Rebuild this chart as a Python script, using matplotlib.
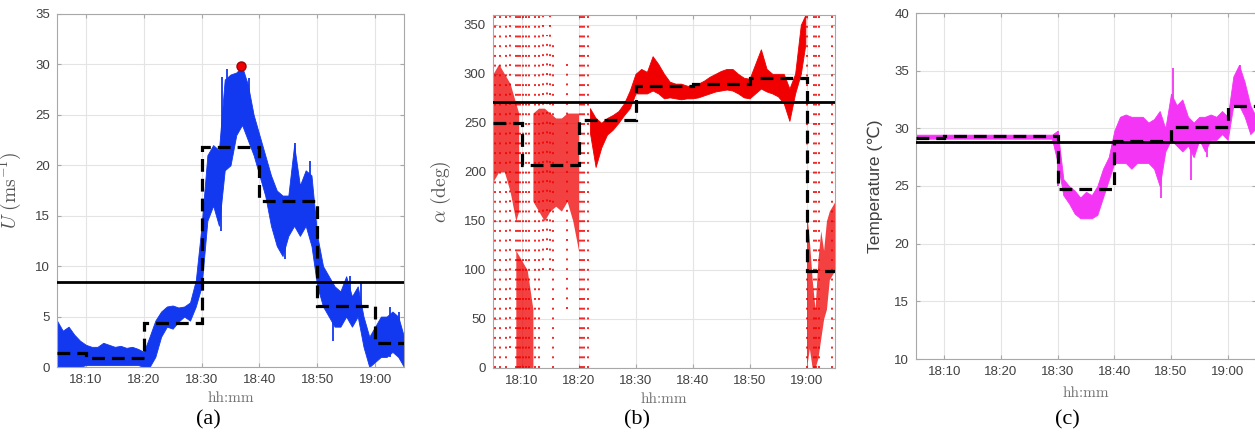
import matplotlib.pyplot as plt

plt.rcParams["mathtext.fontset"] = "cm"
plt.rcParams["font.family"] = ["Liberation Sans", "DejaVu Sans"]

# time axis in minutes after 18:00
minutes = list(range(5, 66))
tick_min = [10, 20, 30, 40, 50, 60]
tick_lab = ["18:10", "18:20", "18:30", "18:40", "18:50", "19:00"]
step_edges = [5, 10, 20, 30, 40, 50, 60, 65]

# ---- (a) wind speed U (m/s), band read per minute
u_lo = [0, 0, 0, 0, 0, 0.2, 0.2, 0.2, 0.2, 0.2, 0.2, 0.2, 0.2, 0.2, 0.2,
        0, 0, 1.0, 3.0, 4.0, 3.8, 4.5, 5.0, 4.6, 6.0, 8.0, 14.5, 16.0,
        14.0, 19.5, 20.0, 23.0, 24.0, 22.5, 21.0, 19.0, 17.0, 14.0, 12.0,
        11.0, 13.0, 14.0, 13.0, 14.0, 12.0, 8.0, 6.0, 5.0, 4.0, 4.0, 5.0,
        4.0, 5.0, 2.0, 0.0, 0.5, 1.0, 1.0, 1.5, 1.0, 0.0]
u_hi = [4.6, 3.6, 4.0, 3.2, 2.6, 2.2, 2.0, 2.0, 2.4, 2.2, 2.0, 2.1, 1.9,
        2.0, 1.8, 1.5, 3.0, 4.6, 5.5, 6.0, 6.1, 5.9, 6.0, 6.4, 8.6, 14.0,
        21.0, 22.0, 21.5, 28.5, 29.0, 29.2, 29.8, 28.0, 25.0, 23.0, 21.0,
        19.0, 17.5, 17.0, 17.0, 22.0, 18.0, 19.5, 19.0, 13.0, 10.0, 9.0,
        8.0, 7.5, 9.0, 7.0, 8.0, 5.0, 3.0, 4.0, 5.0, 5.0, 5.5, 5.0, 3.0]
u_spike_t = [33.3, 33.6, 34.4, 35.3, 38.2, 44.5, 46.2, 48.7, 52.7, 55.6,
             57.6, 62.6, 64.2]
u_spike_lo = [13.5, 20.0, 21.0, 22.0, 23.0, 10.7, 14.0, 14.0, 2.6, 5.0,
              5.0, 1.0, 1.0]
u_spike_hi = [20.0, 28.8, 29.5, 28.0, 28.7, 15.0, 22.2, 20.4, 6.0, 9.0,
              8.4, 5.9, 5.5]
u_mean = [1.4, 0.9, 4.4, 21.8, 16.5, 6.0, 2.4]
u_ref = 8.4
u_max_t, u_max = 36.9, 29.8

# ---- (b) wind direction alpha (deg)
a_streak_t = [5.3, 6.2, 7.3, 8.0, 9.0, 9.4, 9.7, 10.3, 10.8, 11.4, 12.3,
              13.0, 13.8, 14.4, 15.0, 15.5, 17.9, 20.2, 20.7, 21.0, 21.7,
              60.0, 61.3, 61.7, 62.2, 64.5]
a_streak_lo = [0, 0, 0, 20, 0, 0, 0, 0, 0, 0, 0, 0, 100, 120, 100, 0, 60,
               0, 0, 0, 0, 0, 0, 0, 0, 0]
a_streak_hi = [360, 360, 360, 360, 360, 360, 360, 360, 360, 360, 360, 360,
               360, 340, 360, 330, 310, 360, 360, 360, 360, 360, 360, 360,
               360, 360]
a_early_t = [5, 6, 7, 8, 9, 9.5]
a_early_lo = [190, 200, 200, 180, 150, 160]
a_early_hi = [300, 310, 300, 290, 270, 260]
a_low_t = [9, 10, 11, 12]
a_low_lo = [0, 0, 0, 0]
a_low_hi = [120, 110, 100, 60]
a_mid_t = [12, 13, 14, 15, 16, 17, 18, 19, 20]
a_mid_lo = [170, 160, 150, 160, 165, 160, 170, 150, 120]
a_mid_hi = [260, 265, 265, 260, 255, 255, 260, 260, 260]
a_track_t = [22, 23, 24, 25, 26, 27, 28, 29, 30, 31, 32, 33, 34, 35, 36,
             37, 38, 39, 40, 41, 42, 43, 44, 45, 46, 47, 48, 49, 50, 51,
             52, 53, 54, 55, 56, 57, 58, 59, 59.8]
a_track_lo = [240, 205, 225, 238, 243, 250, 258, 265, 280, 280, 280, 283,
              280, 275, 276, 275, 274, 275, 275, 276, 278, 280, 282, 283,
              284, 283, 280, 276, 275, 280, 285, 282, 280, 277, 270, 252,
              280, 300, 330]
a_track_hi = [265, 255, 250, 255, 258, 262, 270, 283, 300, 305, 302, 318,
              310, 300, 292, 290, 290, 288, 287, 290, 293, 297, 300, 303,
              305, 305, 300, 296, 295, 310, 325, 305, 300, 300, 300, 285,
              300, 350, 360]
a_late_t = [60, 60.5, 61, 61.5, 62, 62.5, 63, 63.5, 64, 65]
a_late_lo = [0, 20, 0, 0, 10, 30, 50, 60, 90, 100]
a_late_hi = [160, 130, 90, 60, 110, 140, 120, 150, 160, 170]
a_mean_edges = [5, 10, 20, 30, 40, 50, 60, 65]
a_mean = [250, 207, 253, 287.5, 289.5, 296, 99]
a_ref = 271.5

# ---- (c) temperature (deg C)
t_lo = [29.1] * 25 + [
    27.0, 24.2, 23.5, 22.6, 22.2, 22.2, 22.2, 22.5, 24.0, 25.5, 27.0, 27.0,
    27.0, 26.5, 27.0, 27.0, 27.0, 26.5, 25.0, 28.0, 29.0, 28.5, 28.0, 28.5,
    27.5, 29.0, 28.0, 29.0, 29.0, 29.5, 29.0, 32.0, 32.0, 31.0, 29.5, 30.0]
t_hi = [29.45] * 25 + [
    29.8, 25.6, 25.0, 24.6, 24.0, 24.5, 24.2, 25.0, 26.5, 27.5, 29.8, 31.0,
    31.2, 31.0, 31.0, 31.0, 30.5, 30.8, 31.5, 30.0, 33.0, 32.0, 32.5, 31.0,
    30.5, 31.0, 31.0, 31.2, 31.0, 31.5, 31.0, 34.5, 35.5, 34.0, 32.0, 31.0]
t_spike_t = [30.1, 48.3, 50.4, 53.6, 56.4, 62.2]
t_spike_lo = [25.0, 24.0, 29.0, 25.5, 27.5, 32.0]
t_spike_hi = [29.8, 28.0, 35.2, 29.0, 29.5, 35.5]
t_mean = [29.2, 29.35, 29.35, 24.7, 28.9, 30.1, 31.9]
t_ref = 28.8

BLUE = "#1238f0"
RED = "#f00000"
MAGENTA = "#f535f5"
TXT = "#404040"

fig = plt.figure(figsize=(12.55, 4.41), dpi=100)
W, H = 1255, 441


def make_ax(l, r, t, b):
    ax = fig.add_axes([l / W, (H - b) / H, (r - l) / W, (b - t) / H])
    ax.set_xlim(5, 65)
    ax.set_xticks(tick_min)
    ax.set_xticklabels(tick_lab)
    ax.grid(True, color="#e4e4e4", lw=0.8)
    ax.set_axisbelow(True)
    for s in ax.spines.values():
        s.set_color("#a8a8a8")
        s.set_linewidth(0.8)
    ax.tick_params(direction="in", length=3, color="#a8a8a8",
                   labelcolor=TXT, labelsize=9.5, pad=5, top=True, right=True)
    ax.set_xlabel("hh:mm", fontsize=11, color="#747474", family="cmr10")
    return ax


def dashed_steps(ax, edges, levels):
    ax.stairs(levels, edges, baseline=None, color="black", lw=2.3,
              linestyle=(0, (4, 2.2)), zorder=4)


# (a)
ax = make_ax(57, 404, 14, 367)
ax.fill_between(minutes, u_lo, u_hi, color=BLUE, lw=0.6, zorder=2)
ax.vlines(u_spike_t, u_spike_lo, u_spike_hi, color=BLUE, lw=1.3, zorder=2)
dashed_steps(ax, step_edges, u_mean)
ax.axhline(u_ref, color="black", lw=2, zorder=5)
ax.plot(u_max_t, u_max, "o", ms=6.5, color=RED, mec="#a00000", zorder=6)
ax.set_ylim(0, 35)
ax.set_yticks(range(0, 36, 5))
ax.set_ylabel(r"$U\ (\mathrm{ms}^{-1})$", fontsize=14, color="#555555")
ax.yaxis.set_label_coords(-0.098, 0.5)
ax.xaxis.set_label_coords(0.5, -0.068)

# (b)
ax = make_ax(493, 835, 15, 368)
ax.vlines(a_streak_t, a_streak_lo, a_streak_hi, color=RED, lw=1.4,
          linestyle=(0, (1, 4)), alpha=0.85, zorder=2)
for tt, lo, hi in [(a_early_t, a_early_lo, a_early_hi),
                   (a_low_t, a_low_lo, a_low_hi),
                   (a_mid_t, a_mid_lo, a_mid_hi),
                   (a_late_t, a_late_lo, a_late_hi)]:
    ax.fill_between(tt, lo, hi, color=RED, alpha=0.75, lw=0, zorder=2)
ax.fill_between(a_track_t, a_track_lo, a_track_hi, color=RED, lw=0.6,
                zorder=2)
dashed_steps(ax, a_mean_edges, a_mean)
ax.axhline(a_ref, color="black", lw=2, zorder=5)
ax.set_ylim(0, 360)
ax.set_yticks(range(0, 360, 50))
ax.set_ylabel(r"$\alpha\ (\mathrm{deg})$", fontsize=14, color="#555555")
ax.yaxis.set_label_coords(-0.117, 0.5)
ax.xaxis.set_label_coords(0.5, -0.068)

# (c)
ax = make_ax(916, 1256, 13, 359)
ax.fill_between(minutes, t_lo, t_hi, color=MAGENTA, lw=0.6, zorder=2)
ax.vlines(t_spike_t, t_spike_lo, t_spike_hi, color=MAGENTA, lw=1.3, zorder=2)
dashed_steps(ax, step_edges, t_mean)
ax.axhline(t_ref, color="black", lw=2, zorder=5)
ax.set_ylim(10, 40)
ax.set_yticks(range(10, 41, 5))
ax.set_ylabel("Temperature (℃)", fontsize=12.5, color=TXT)
ax.yaxis.set_label_coords(-0.097, 0.5)
ax.xaxis.set_label_coords(0.5, -0.08)

for x, lab in [(208, "(a)"), (637, "(b)"), (1067, "(c)")]:
    fig.text(x / W, 1 - 420 / H, lab, ha="center", va="center",
             fontsize=16, family="Liberation Serif")

fig.savefig("out.png", dpi=100)
